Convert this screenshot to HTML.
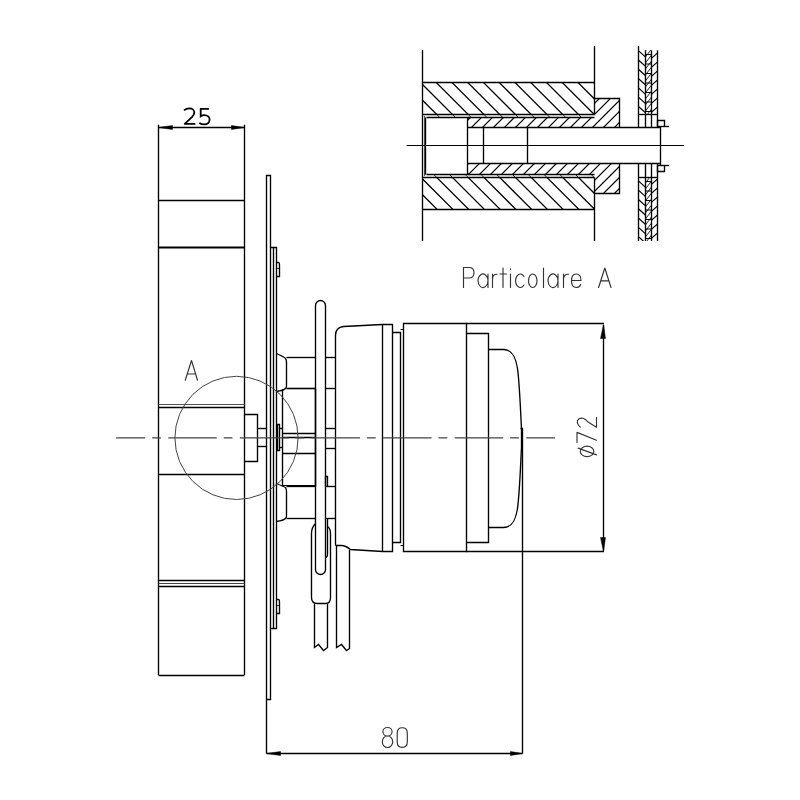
<!DOCTYPE html>
<html><head><meta charset="utf-8"><style>
html,body{margin:0;padding:0;background:#fff;width:800px;height:800px;overflow:hidden;font-family:"Liberation Sans",sans-serif}
svg{display:block}
</style></head><body>
<svg width="800" height="800" viewBox="0 0 800 800"><rect width="800" height="800" fill="#fff"/><defs><clipPath id="c1"><path d="M422.5 82.5H594.5V114.4H422.5Z"/></clipPath><clipPath id="c2"><path d="M422.5 177.4H594.5V209H422.5Z"/></clipPath><clipPath id="c3"><path d="M426 114.4H594V117.4H426Z"/></clipPath><clipPath id="c4"><path d="M426 174.7H594V177.4H426Z"/></clipPath><clipPath id="c5"><path d="M469.5 117.4H594.5V98.5H619.5V127.1H469.5Q467 127.1 467 124.6V120Q467 117.4 469.5 117.4Z"/></clipPath><clipPath id="c6"><path d="M467 163.2H619.5V193.2H594.5V174.7H469.5Q467 174.7 467 172.2V165.7Q467 163.2 469.5 163.2Z"/></clipPath><clipPath id="c7"><path d="M638.5 50H645.5V114.2H638.5Z"/></clipPath><clipPath id="c8"><path d="M638.5 177.2H645.5V241H638.5Z"/></clipPath><clipPath id="c9"><path d="M651.5 50H657.5V114.2H651.5Z"/></clipPath><clipPath id="c10"><path d="M651.5 177.2H657.5V241H651.5Z"/></clipPath><clipPath id="c11"><path d="M645.5 50H651.5V114.2H645.5Z"/></clipPath><clipPath id="c12"><path d="M645.5 177.2H651.5V241H645.5Z"/></clipPath><clipPath id="c13"><path d="M645.5 50H651.5V114.2H645.5Z"/></clipPath><clipPath id="c14"><path d="M645.5 177.2H651.5V241H645.5Z"/></clipPath></defs><path clip-path="url(#c1)" d="M386.50 80.00L423.50 117.00M402.25 80.00L439.25 117.00M418.00 80.00L455.00 117.00M433.75 80.00L470.75 117.00M449.50 80.00L486.50 117.00M465.25 80.00L502.25 117.00M481.00 80.00L518.00 117.00M496.75 80.00L533.75 117.00M512.50 80.00L549.50 117.00M528.25 80.00L565.25 117.00M544.00 80.00L581.00 117.00M559.75 80.00L596.75 117.00M575.50 80.00L612.50 117.00M591.25 80.00L628.25 117.00" stroke="#000" stroke-width="1.25" fill="none"/>
<path clip-path="url(#c2)" d="M387.00 175.00L424.00 212.00M402.75 175.00L439.75 212.00M418.50 175.00L455.50 212.00M434.25 175.00L471.25 212.00M450.00 175.00L487.00 212.00M465.75 175.00L502.75 212.00M481.50 175.00L518.50 212.00M497.25 175.00L534.25 212.00M513.00 175.00L550.00 212.00M528.75 175.00L565.75 212.00M544.50 175.00L581.50 212.00M560.25 175.00L597.25 212.00M576.00 175.00L613.00 212.00M591.75 175.00L628.75 212.00" stroke="#000" stroke-width="1.25" fill="none"/>
<path clip-path="url(#c3)" d="M418.50 112.00L426.50 120.00M434.25 112.00L442.25 120.00M450.00 112.00L458.00 120.00M465.75 112.00L473.75 120.00M481.50 112.00L489.50 120.00M497.25 112.00L505.25 120.00M513.00 112.00L521.00 120.00M528.75 112.00L536.75 120.00M544.50 112.00L552.50 120.00M560.25 112.00L568.25 120.00M576.00 112.00L584.00 120.00M591.75 112.00L599.75 120.00" stroke="#000" stroke-width="0.9" fill="none"/>
<path clip-path="url(#c4)" d="M415.50 172.00L423.50 180.00M431.25 172.00L439.25 180.00M447.00 172.00L455.00 180.00M462.75 172.00L470.75 180.00M478.50 172.00L486.50 180.00M494.25 172.00L502.25 180.00M510.00 172.00L518.00 180.00M525.75 172.00L533.75 180.00M541.50 172.00L549.50 180.00M557.25 172.00L565.25 180.00M573.00 172.00L581.00 180.00M588.75 172.00L596.75 180.00" stroke="#000" stroke-width="0.9" fill="none"/>
<path clip-path="url(#c5)" d="M458.90 96.00L424.90 130.00M469.90 96.00L435.90 130.00M480.90 96.00L446.90 130.00M491.90 96.00L457.90 130.00M502.90 96.00L468.90 130.00M513.90 96.00L479.90 130.00M524.90 96.00L490.90 130.00M535.90 96.00L501.90 130.00M546.90 96.00L512.90 130.00M557.90 96.00L523.90 130.00M568.90 96.00L534.90 130.00M579.90 96.00L545.90 130.00M590.90 96.00L556.90 130.00M601.90 96.00L567.90 130.00M612.90 96.00L578.90 130.00M623.90 96.00L589.90 130.00M634.90 96.00L600.90 130.00M645.90 96.00L611.90 130.00" stroke="#000" stroke-width="1.2" fill="none"/>
<path clip-path="url(#c6)" d="M459.90 161.00L424.90 196.00M470.90 161.00L435.90 196.00M481.90 161.00L446.90 196.00M492.90 161.00L457.90 196.00M503.90 161.00L468.90 196.00M514.90 161.00L479.90 196.00M525.90 161.00L490.90 196.00M536.90 161.00L501.90 196.00M547.90 161.00L512.90 196.00M558.90 161.00L523.90 196.00M569.90 161.00L534.90 196.00M580.90 161.00L545.90 196.00M591.90 161.00L556.90 196.00M602.90 161.00L567.90 196.00M613.90 161.00L578.90 196.00M624.90 161.00L589.90 196.00M635.90 161.00L600.90 196.00M646.90 161.00L611.90 196.00" stroke="#000" stroke-width="1.2" fill="none"/>
<line x1="422.5" y1="50" x2="422.5" y2="241" stroke="#000" stroke-width="1.35" />
<line x1="594.5" y1="46" x2="594.5" y2="114.4" stroke="#000" stroke-width="1.35" />
<line x1="594.5" y1="177.4" x2="594.5" y2="241" stroke="#000" stroke-width="1.35" />
<path d="M422.5 82.5H594.5" stroke="#000" stroke-width="1.35" fill="none" />
<path d="M422.5 114.5H594.5" stroke="#000" stroke-width="1.35" fill="none" />
<path d="M426.5 117.5H594.5" stroke="#000" stroke-width="1.35" fill="none" />
<path d="M422.5 209.5H594.5" stroke="#000" stroke-width="1.35" fill="none" />
<path d="M422.5 177.5H594.5" stroke="#000" stroke-width="1.35" fill="none" />
<path d="M426.5 174.5H594.5" stroke="#000" stroke-width="1.35" fill="none" />
<line x1="424.5" y1="116" x2="424.5" y2="176" stroke="#444" stroke-width="0.9" />
<line x1="425.5" y1="117.4" x2="425.5" y2="174.7" stroke="#000" stroke-width="1.35" />
<path d="M469.5 117.5Q467.5 117.5 467.5 120.5V172.5Q467.5 174.5 469.5 174.5" stroke="#000" stroke-width="1.35" fill="none" />
<path d="M467.5 127.5H660.5" stroke="#000" stroke-width="1.35" fill="none" />
<path d="M467.5 163.5H660.5" stroke="#000" stroke-width="1.35" fill="none" />
<line x1="483.5" y1="127.4" x2="483.5" y2="163.2" stroke="#000" stroke-width="1.35" />
<line x1="527.5" y1="127.4" x2="527.5" y2="163.2" stroke="#000" stroke-width="1.35" />
<path d="M594.5 98.5H619.5V127.5" stroke="#000" stroke-width="1.35" fill="none" />
<path d="M594.5 193.5H619.5V163.5" stroke="#000" stroke-width="1.35" fill="none" />
<line x1="406.6" y1="145.5" x2="684" y2="145.5" stroke="#000" stroke-width="1.1" />
<line x1="638.5" y1="46" x2="638.5" y2="127.4" stroke="#000" stroke-width="1.35" />
<line x1="638.5" y1="163.2" x2="638.5" y2="241" stroke="#000" stroke-width="1.35" />
<line x1="645.5" y1="50.3" x2="645.5" y2="127.4" stroke="#000" stroke-width="1.35" />
<line x1="645.5" y1="163.2" x2="645.5" y2="241" stroke="#000" stroke-width="1.35" />
<line x1="651.5" y1="50.3" x2="651.5" y2="127.4" stroke="#000" stroke-width="1.35" />
<line x1="651.5" y1="163.2" x2="651.5" y2="241" stroke="#000" stroke-width="1.35" />
<line x1="657.5" y1="50.3" x2="657.5" y2="127.4" stroke="#000" stroke-width="1.35" />
<line x1="657.5" y1="163.2" x2="657.5" y2="241" stroke="#000" stroke-width="1.35" />
<line x1="638.5" y1="114.5" x2="657.5" y2="114.5" stroke="#000" stroke-width="1.35" />
<line x1="638.5" y1="177.5" x2="657.5" y2="177.5" stroke="#000" stroke-width="1.35" />
<path clip-path="url(#c7)" d="M636.00 29.90L648.00 40.70M636.00 39.20L648.00 50.00M636.00 48.50L648.00 59.30M636.00 57.80L648.00 68.60M636.00 67.10L648.00 77.90M636.00 76.40L648.00 87.20M636.00 85.70L648.00 96.50M636.00 95.00L648.00 105.80M636.00 104.30L648.00 115.10" stroke="#000" stroke-width="1.2" fill="none"/>
<path clip-path="url(#c8)" d="M636.00 160.10L648.00 170.90M636.00 169.40L648.00 180.20M636.00 178.70L648.00 189.50M636.00 188.00L648.00 198.80M636.00 197.30L648.00 208.10M636.00 206.60L648.00 217.40M636.00 215.90L648.00 226.70M636.00 225.20L648.00 236.00M636.00 234.50L648.00 245.30" stroke="#000" stroke-width="1.2" fill="none"/>
<path clip-path="url(#c9)" d="M649.00 42.60L660.00 32.70M649.00 51.60L660.00 41.70M649.00 60.60L660.00 50.70M649.00 69.60L660.00 59.70M649.00 78.60L660.00 68.70M649.00 87.60L660.00 77.70M649.00 96.60L660.00 86.70M649.00 105.60L660.00 95.70M649.00 114.60L660.00 104.70" stroke="#000" stroke-width="1.2" fill="none"/>
<path clip-path="url(#c10)" d="M649.00 177.60L660.00 167.70M649.00 186.60L660.00 176.70M649.00 195.60L660.00 185.70M649.00 204.60L660.00 194.70M649.00 213.60L660.00 203.70M649.00 222.60L660.00 212.70M649.00 231.60L660.00 221.70M649.00 240.60L660.00 230.70" stroke="#000" stroke-width="1.2" fill="none"/>
<path clip-path="url(#c11)" d="M643.00 48.10L654.00 33.80M643.00 54.10L654.00 39.80M643.00 60.10L654.00 45.80M643.00 66.10L654.00 51.80M643.00 72.10L654.00 57.80M643.00 78.10L654.00 63.80M643.00 84.10L654.00 69.80M643.00 90.10L654.00 75.80M643.00 96.10L654.00 81.80M643.00 102.10L654.00 87.80M643.00 108.10L654.00 93.80M643.00 114.10L654.00 99.80M643.00 120.10L654.00 105.80M643.00 126.10L654.00 111.80" stroke="#222" stroke-width="1.0" fill="none"/>
<path clip-path="url(#c12)" d="M643.00 174.10L654.00 159.80M643.00 180.10L654.00 165.80M643.00 186.10L654.00 171.80M643.00 192.10L654.00 177.80M643.00 198.10L654.00 183.80M643.00 204.10L654.00 189.80M643.00 210.10L654.00 195.80M643.00 216.10L654.00 201.80M643.00 222.10L654.00 207.80M643.00 228.10L654.00 213.80M643.00 234.10L654.00 219.80M643.00 240.10L654.00 225.80M643.00 246.10L654.00 231.80M643.00 252.10L654.00 237.80" stroke="#222" stroke-width="1.0" fill="none"/>
<path clip-path="url(#c13)" d="M643.00 45.00L654.00 45.00M643.00 54.50L654.00 54.50M643.00 64.00L654.00 64.00M643.00 73.50L654.00 73.50M643.00 83.00L654.00 83.00M643.00 92.50L654.00 92.50M643.00 102.00L654.00 102.00M643.00 111.50L654.00 111.50" stroke="#000" stroke-width="1.0" fill="none"/>
<path clip-path="url(#c14)" d="M643.00 172.00L654.00 172.00M643.00 181.50L654.00 181.50M643.00 191.00L654.00 191.00M643.00 200.50L654.00 200.50M643.00 210.00L654.00 210.00M643.00 219.50L654.00 219.50M643.00 229.00L654.00 229.00M643.00 238.50L654.00 238.50" stroke="#000" stroke-width="1.0" fill="none"/>
<line x1="660.5" y1="126.5" x2="660.5" y2="165" stroke="#000" stroke-width="1.35" />
<path d="M657.5 126.5V120.5H664.5V126.5" stroke="#000" stroke-width="1.35" fill="none" />
<path d="M657.5 165.5V171.5H664.5V165.5" stroke="#000" stroke-width="1.35" fill="none" />
<line x1="657.5" y1="126.5" x2="669" y2="126.5" stroke="#000" stroke-width="1.35" />
<line x1="657.5" y1="165.5" x2="669" y2="165.5" stroke="#000" stroke-width="1.35" />
<path d="M463.5 287.5V267.5H469Q474 267.5 474 272.75Q474 278 469 278H463.5" stroke="#333" stroke-width="1.15" fill="none" stroke-linecap="round" stroke-linejoin="round"/>
<path d="M488 274V287.5M488 280.75A5 6.75 0 1 0 488 280.8" stroke="#333" stroke-width="1.15" fill="none" stroke-linecap="round" stroke-linejoin="round"/>
<path d="M492.5 287.5V274M492.5 279Q493 274 497 274.3" stroke="#333" stroke-width="1.15" fill="none" stroke-linecap="round" stroke-linejoin="round"/>
<path d="M503 268V287.5M500 274H506.5" stroke="#333" stroke-width="1.15" fill="none" stroke-linecap="round" stroke-linejoin="round"/>
<path d="M510.5 274V287.5M510.5 268.8V269.4" stroke="#333" stroke-width="1.15" fill="none" stroke-linecap="round" stroke-linejoin="round"/>
<path d="M524 276.5A4.75 6.75 0 1 0 524 285" stroke="#333" stroke-width="1.15" fill="none" stroke-linecap="round" stroke-linejoin="round"/>
<path d="M528.5 280.75A4.25 6.75 0 1 0 537 280.75A4.25 6.75 0 1 0 528.5 280.75" stroke="#333" stroke-width="1.15" fill="none" stroke-linecap="round" stroke-linejoin="round"/>
<path d="M543.5 268V287.5" stroke="#333" stroke-width="1.15" fill="none" stroke-linecap="round" stroke-linejoin="round"/>
<path d="M558 274V287.5M558 280.75A5 6.75 0 1 0 558 280.8" stroke="#333" stroke-width="1.15" fill="none" stroke-linecap="round" stroke-linejoin="round"/>
<path d="M563.5 287.5V274M563.5 279Q564 274 568.5 274.3" stroke="#333" stroke-width="1.15" fill="none" stroke-linecap="round" stroke-linejoin="round"/>
<path d="M571.5 280.5H581Q581 274 576.25 274Q571.5 274 571.5 280.75Q571.5 287.5 576.25 287.5Q579.5 287.5 580.7 284.5" stroke="#333" stroke-width="1.15" fill="none" stroke-linecap="round" stroke-linejoin="round"/>
<path d="M598.6 287.5L604.8 268L611 287.5M600.9 280.8H608.7" stroke="#333" stroke-width="1.15" fill="none" stroke-linecap="round" stroke-linejoin="round"/>
<line x1="158.5" y1="124.7" x2="158.5" y2="675" stroke="#000" stroke-width="1.35" />
<line x1="244.5" y1="124.7" x2="244.5" y2="675" stroke="#000" stroke-width="1.35" />
<line x1="158.5" y1="200.5" x2="244.5" y2="200.5" stroke="#000" stroke-width="1.35" />
<line x1="158.5" y1="247.5" x2="244.5" y2="247.5" stroke="#000" stroke-width="1.9" />
<line x1="158.5" y1="404.5" x2="244.5" y2="404.5" stroke="#555" stroke-width="1.1" />
<line x1="158.5" y1="407.5" x2="244.5" y2="407.5" stroke="#000" stroke-width="1.6" />
<line x1="158.5" y1="474.5" x2="244.5" y2="474.5" stroke="#000" stroke-width="1.35" />
<line x1="158.5" y1="580.5" x2="244.5" y2="580.5" stroke="#000" stroke-width="1.35" />
<line x1="158.5" y1="583.5" x2="244.5" y2="583.5" stroke="#444" stroke-width="1.0" />
<line x1="158.5" y1="586.5" x2="244.5" y2="586.5" stroke="#000" stroke-width="1.35" />
<line x1="158.5" y1="675.5" x2="244.5" y2="675.5" stroke="#000" stroke-width="1.35" />
<line x1="158.5" y1="127.5" x2="244.5" y2="127.5" stroke="#000" stroke-width="1.35" />
<path d="M158.5 127.5L172.5 125.5V129.5Z" stroke="#000" stroke-width="0.5" fill="#000" />
<path d="M244.5 127.5L231.5 125.5V129.5Z" stroke="#000" stroke-width="0.5" fill="#000" />
<path d="M184 110.4C185.8 108.9 187.6 108.4 189.3 108.4C192.4 108.4 194.3 110.3 194.3 112.6C194.3 114.4 193.4 115.7 191.9 117.2L184.7 123.9H195.3" stroke="#000" stroke-width="1.8" fill="none" stroke-linejoin="round"/>
<path d="M208.9 108.8H200.7V116.3C201.9 115.4 203.1 115.1 204.4 115.1C207.5 115.1 209.6 117.1 209.6 119.6C209.6 122.4 207.5 124.4 204.3 124.4C202.3 124.4 200.7 123.9 199.3 122.9" stroke="#000" stroke-width="1.8" fill="none" />
<path d="M266.5 753.5V175.5H270.5V699.5H266.5" stroke="#000" stroke-width="1.35" fill="none" />
<path d="M270.5 247.5H276.5V628.5H270.5" stroke="#000" stroke-width="1.35" fill="none" />
<line x1="273.5" y1="247.25" x2="273.5" y2="628" stroke="#000" stroke-width="1.35" />
<path d="M276.5 262.5H278.5Q279.5 262.5 279.5 265.5V276.5H276.5" stroke="#000" stroke-width="1.35" fill="none" />
<line x1="276.5" y1="268.5" x2="279.5" y2="268.5" stroke="#000" stroke-width="0.8" />
<path d="M276.5 599.5H278.5Q279.5 599.5 279.5 602.5V613.5H276.5" stroke="#000" stroke-width="1.35" fill="none" />
<line x1="276.5" y1="605.5" x2="279.5" y2="605.5" stroke="#000" stroke-width="0.8" />
<path d="M244.5 414.5H257.5V461.5H244.5" stroke="#000" stroke-width="1.35" fill="none" />
<line x1="257.4" y1="428.5" x2="266.4" y2="428.5" stroke="#000" stroke-width="1.35" />
<line x1="257.4" y1="446.5" x2="266.4" y2="446.5" stroke="#000" stroke-width="1.35" />
<path d="M277.5 424.5H279.5V450.5H277.5Z" stroke="#000" stroke-width="1.35" fill="none" />
<line x1="279.75" y1="428.5" x2="282.6" y2="428.5" stroke="#000" stroke-width="1.35" />
<line x1="279.75" y1="447.5" x2="282.6" y2="447.5" stroke="#000" stroke-width="1.35" />
<line x1="282.5" y1="389.4" x2="282.5" y2="486.25" stroke="#000" stroke-width="1.35" />
<line x1="282.6" y1="433.5" x2="315.5" y2="433.5" stroke="#000" stroke-width="1.35" />
<line x1="282.6" y1="437.5" x2="315.5" y2="437.5" stroke="#000" stroke-width="1.7" />
<line x1="282.6" y1="453.5" x2="315.5" y2="453.5" stroke="#000" stroke-width="1.35" />
<path d="M276.5 353.5Q283.5 356.5 285.5 358.5Q286.5 359.5 286.5 362.5V385.5Q286.5 387.5 285.5 388.5Q283.5 390.5 276.5 391.5" stroke="#000" stroke-width="1.35" fill="none" />
<path d="M286.5 357.5H315.5" stroke="#000" stroke-width="1.35" fill="none" />
<path d="M286.5 388.5H315.5" stroke="#000" stroke-width="1.6" fill="none" />
<path d="M276.5 483.5Q283.5 486.5 285.5 487.5Q286.5 489.5 286.5 491.5V515.5Q286.5 517.5 285.5 518.5Q283.5 520.5 276.5 521.5" stroke="#000" stroke-width="1.35" fill="none" />
<path d="M282.5 485.5H315.5" stroke="#000" stroke-width="1.0" fill="none" />
<path d="M286.5 486.5H315.5" stroke="#000" stroke-width="1.3" fill="none" />
<path d="M286.5 518.5H315.5" stroke="#000" stroke-width="1.35" fill="none" />
<line x1="315.5" y1="388.75" x2="315.5" y2="486.6" stroke="#000" stroke-width="1.5" />
<path d="M315.5 523.5V305.5A4.75 4.75 0 0 1 325.5 305.5V557.5" stroke="#000" stroke-width="1.35" fill="none" />
<path d="M315.5 523.5V569.5A4.75 4.75 0 0 0 325.5 569.5V557.5" stroke="#000" stroke-width="1.35" fill="none" />
<line x1="325.3" y1="357.5" x2="335.25" y2="357.5" stroke="#000" stroke-width="1.35" />
<line x1="325.3" y1="388.5" x2="335.25" y2="388.5" stroke="#000" stroke-width="1.35" />
<line x1="325.3" y1="428.5" x2="335.25" y2="428.5" stroke="#000" stroke-width="1.35" />
<line x1="325.3" y1="448.5" x2="335.25" y2="448.5" stroke="#000" stroke-width="1.35" />
<line x1="325.3" y1="486.5" x2="335.25" y2="486.5" stroke="#000" stroke-width="1.35" />
<line x1="325.3" y1="518.5" x2="335.25" y2="518.5" stroke="#000" stroke-width="1.35" />
<path d="M325.5 476.5V486.5M325.5 476.5H327.5V486.5" stroke="#000" stroke-width="1.35" fill="none" />
<path d="M315.5 523.5Q311.5 527.5 311.5 533.5V597.5Q311.5 603.5 317.5 603.5H325.5Q330.5 603.5 330.5 597.5V533.5Q330.5 528.5 327.5 526.5" stroke="#000" stroke-width="1.35" fill="none" />
<path d="M327.5 518.5V553.5Q327.5 557.5 325.5 557.5" stroke="#000" stroke-width="1.35" fill="none" />
<path d="M314.5 603.5V647.5L318.5 644.5L323.5 650.5L327.5 647.5V603.5" stroke="#000" stroke-width="1.35" fill="none" />
<path d="M336.5 545.5V647.5L341.5 644.5L346.5 650.5L349.5 648.5V549.5" stroke="#000" stroke-width="1.35" fill="none" />
<path d="M335.5 544.5V335.5Q335.5 327.5 343.5 326.5L382.5 324.5H392.5V551.5H382.5L350.5 549.5Q345.5 545.5 341.5 545.5L336.5 545.5Q335.5 545.5 335.5 544.5" stroke="#000" stroke-width="1.35" fill="none" />
<line x1="382.5" y1="324.4" x2="382.5" y2="551.25" stroke="#000" stroke-width="1.35" />
<path d="M392.5 332.5H400.5V542.5H392.5" stroke="#000" stroke-width="1.35" fill="none" />
<path d="M400.5 329.5H403.5V545.5H400.5" stroke="#000" stroke-width="1.0" fill="none" />
<path d="M403.5 323.5H466.5V551.5H403.5Z" stroke="#000" stroke-width="1.35" fill="none" />
<line x1="466.3" y1="323.5" x2="604" y2="323.5" stroke="#000" stroke-width="1.35" />
<line x1="466.3" y1="551.5" x2="604" y2="551.5" stroke="#000" stroke-width="1.35" />
<path d="M466.5 333.5H488.5V542.5H466.5" stroke="#000" stroke-width="1.35" fill="none" />
<path d="M488.5 349.5H503.5C511.5 349.5 515.5 355.5 517.5 368.5C519.5 382.5 520.5 410.5 521.5 428.5V447.5C520.5 466.5 519.5 494.5 517.5 508.5C515.5 521.5 511.5 527.5 503.5 527.5H488.5" stroke="#000" stroke-width="1.35" fill="none" />
<path d="M520.5 428.5L522.5 428.5V753.5" stroke="#000" stroke-width="1.35" fill="none" />
<line x1="603.5" y1="325" x2="603.5" y2="550.5" stroke="#000" stroke-width="1.35" />
<path d="M603.5 324.5L600.5 338.5H605.5Z" stroke="#000" stroke-width="0.5" fill="#000" />
<path d="M603.5 551.5L600.5 537.5H605.5Z" stroke="#000" stroke-width="0.5" fill="#000" />
<path d="M577 442.5V432.4L596.5 440.25" stroke="#333" stroke-width="1.15" fill="none" stroke-linecap="round" stroke-linejoin="round"/>
<path d="M580.4 427.1Q576.5 424 577.5 420.5Q579 417.6 583 418.3Q585.5 419 588 422L596.5 427.3V417.6" stroke="#333" stroke-width="1.15" fill="none" stroke-linecap="round" stroke-linejoin="round"/>
<path d="M580.35 451.4A6.75 5.25 0 1 0 593.85 451.4A6.75 5.25 0 1 0 580.35 451.4M578.1 448.1L596.5 454.9" stroke="#333" stroke-width="1.15" fill="none" stroke-linecap="round" stroke-linejoin="round"/>
<line x1="266.6" y1="753.5" x2="522.4" y2="753.5" stroke="#000" stroke-width="1.35" />
<path d="M266.5 753.5L280.5 751.5V755.5Z" stroke="#000" stroke-width="0.5" fill="#000" />
<path d="M522.5 753.5L510.5 751.5V755.5Z" stroke="#000" stroke-width="0.5" fill="#000" />
<path d="M387.5 736A4.6 4.25 0 1 0 387.5 727.5A4.6 4.25 0 1 0 387.5 736A5.2 5.75 0 1 0 387.5 747.5A5.2 5.75 0 1 0 387.5 736" stroke="#333" stroke-width="1.15" fill="none" stroke-linecap="round" stroke-linejoin="round"/>
<path d="M397.2 733Q397.2 727.7 402.25 727.7Q407.3 727.7 407.3 733V742Q407.3 747.3 402.25 747.3Q397.2 747.3 397.2 742Z" stroke="#333" stroke-width="1.15" fill="none" stroke-linecap="round" stroke-linejoin="round"/>
<circle cx="236.5" cy="437.9" r="61.6" stroke="#444" stroke-width="1.0" fill="none"/>
<path d="M185.25 380.25L191.5 360.5L197.5 380.25M187.4 374H195.6" stroke="#333" stroke-width="1.15" fill="none" stroke-linecap="round" stroke-linejoin="round"/>
<line x1="116.1" y1="437.8" x2="555" y2="437.8" stroke="#444" stroke-width="1.3" stroke-dasharray="48.45 7 8.75 7.4" stroke-dashoffset="19.4"/></svg>
</body></html>
